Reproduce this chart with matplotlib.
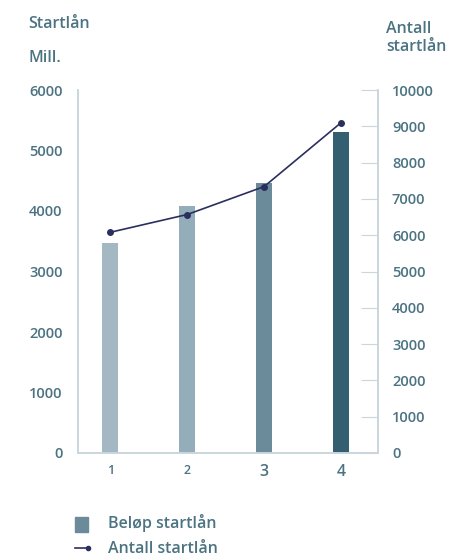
import matplotlib.pyplot as plt
from matplotlib.patches import Rectangle
from matplotlib.lines import Line2D

# data
kategorier = [1, 2, 3, 4]
belop = [3470, 4080, 4460, 5300]          # Mill. (left axis)
antall = [6080, 6570, 7340, 9100]         # number of loans (right axis)
bar_farger = ['#a3b8c3', '#93adba', '#6c8b9a', '#335f70']
venstre_ticks = [0, 1000, 2000, 3000, 4000, 5000, 6000]
hoyre_ticks = list(range(0, 10001, 1000))

txt = '#4b7382'
spine = '#c9d6dd'
vekt = 'semibold'
plt.rcParams['font.family'] = ['Open Sans', 'DejaVu Sans']

fig = plt.figure(figsize=(4.65, 5.6), dpi=100)
ax1 = fig.add_axes([78/465, 1-453/560, 300/465, 363/560])
ax2 = ax1.twinx()

ax1.bar(kategorier, belop, width=0.21, color=bar_farger, zorder=2)
ax1.set_ylim(0, 6000)
ax1.set_xlim(0.58, 4.48)
ax1.set_yticks(venstre_ticks)
ax1.set_yticklabels([str(v) for v in venstre_ticks], color=txt, fontsize=10.5, fontweight=vekt)
ax1.set_xticks(kategorier)
ax1.set_xticklabels([str(k) for k in kategorier], color=txt, fontweight=vekt)
for lab, fs in zip(ax1.get_xticklabels(), [9, 9, 11.5, 11.5]):
    lab.set_fontsize(fs)
ax1.tick_params(axis='y', length=0, pad=11)
ax1.tick_params(axis='x', length=0, pad=8)

ax2.plot(kategorier, antall, color='#2b2f5f', lw=1.2, marker='o', ms=4, zorder=3)
ax2.set_ylim(0, 10000)
ax2.set_yticks(hoyre_ticks)
ax2.set_yticklabels([str(v) for v in hoyre_ticks], color=txt, fontsize=10.5, fontweight=vekt)
ax2.tick_params(axis='y', direction='in', length=12, color=spine, pad=10)

for a in (ax1, ax2):
    a.spines['top'].set_visible(False)
    for s in ('left', 'right', 'bottom'):
        a.spines[s].set_color(spine)
        a.spines[s].set_linewidth(1.2)

tkw = dict(color=txt, fontsize=11.5, va='center', fontweight=vekt)
fig.text(28/465, 1-24/560, 'Startlån', **tkw)
fig.text(28/465, 1-58/560, 'Mill.', **tkw)
fig.text(386/465, 1-29/560, 'Antall', **tkw)
fig.text(386/465, 1-47/560, 'startlån', **tkw)

# legend drawn by hand
fig.patches.append(Rectangle((75/465, 1-532/560), 13/465, 15/560,
                             transform=fig.transFigure, color='#6c8b9a'))
fig.text(108/465, 1-523/560, 'Beløp startlån', **tkw)
fig.lines.append(Line2D([75/465, 88/465], [1-548/560, 1-548/560], transform=fig.transFigure,
                        color='#2b2f5f', lw=1.2, marker='o', ms=3, markevery=[1]))
fig.text(108/465, 1-549/560, 'Antall startlån', **tkw)

fig.savefig('out.png', dpi=100)
